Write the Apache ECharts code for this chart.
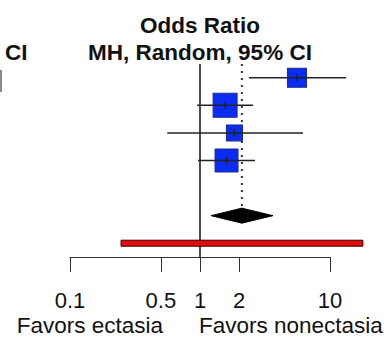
<!DOCTYPE html>
<html><head><meta charset="utf-8">
<script src="https://cdn.jsdelivr.net/npm/echarts@6/dist/echarts.min.js"></script>
<style>html,body{margin:0;padding:0;background:#fff}#c{width:391px;height:338px}</style>
</head><body><div id="c"></div>
<script>
// ---- data ----
var studyOR     = [5.57, 1.56, 1.84, 1.60];
var studyLower  = [2.38, 0.95, 0.56, 0.965];
var studyUpper  = [13.3, 2.56, 6.2, 2.65];
var studyWeight = [21.0, 33.4, 14.9, 30.7];
var pooledOR    = [2.10];
var pooledLower = [1.215];
var pooledUpper = [3.64];
var predLower   = [0.247];
var predUpper   = [17.9];
var tickValues  = [0.1, 0.5, 1, 2, 10];
var titleLines  = ['Odds Ratio', 'MH, Random, 95% CI'];
var favorLabels = ['Favors ectasia', 'Favors nonectasia'];

var FONT = '"Liberation Sans", Arial, sans-serif';
var L = Math.log10;
var studyRows = studyOR.map(function(_, i){ return i; });
var pooledRow = 5, predRow = 6;

var chart = echarts.init(document.getElementById('c'), null, {renderer: 'svg'});
chart.setOption({
  animation: false,
  grid: {left: 70, right: 61, top: 64, bottom: 81},
  xAxis: {
    type: 'value', min: L(0.1), max: L(10), position: 'bottom',
    axisLine: {show: true, onZero: false, lineStyle: {color: '#333', width: 1}},
    axisTick: {show: true, length: 15, customValues: tickValues.map(L), lineStyle: {color: '#333', width: 1}},
    axisLabel: {show: true, customValues: tickValues.map(L), margin: 32, fontSize: 22, fontFamily: FONT, color: '#111',
      formatter: function(v){ return String(+Math.pow(10, v).toPrecision(6)); }},
    splitLine: {show: false}
  },
  yAxis: {type: 'value', inverse: true, min: -0.5, max: 6.5, show: false},
  graphic: [
    {type: 'text', x: 200, y: 25, style: {text: titleLines[0], font: 'bold 22.5px ' + FONT, fill: '#111', align: 'center', verticalAlign: 'middle'}},
    {type: 'text', x: 200, y: 52, style: {text: titleLines[1], font: 'bold 22.5px ' + FONT, fill: '#111', align: 'center', verticalAlign: 'middle'}},
    {type: 'text', x: 5, y: 52, style: {text: 'CI', font: 'bold 22.5px ' + FONT, fill: '#111', align: 'left', verticalAlign: 'middle'}},
    {type: 'rect', shape: {x: 0, y: 70, width: 2, height: 22}, style: {fill: '#888'}},
    {type: 'text', x: 163, y: 325.5, style: {text: favorLabels[0], font: '22.5px ' + FONT, fill: '#111', align: 'right', verticalAlign: 'middle'}},
    {type: 'text', x: 199, y: 325.5, style: {text: favorLabels[1], font: '22.5px ' + FONT, fill: '#111', align: 'left', verticalAlign: 'middle'}}
  ],
  series: [
    { // line of no effect
      type: 'line', symbol: 'none', silent: true, z: 2,
      data: [[L(1), -0.5], [L(1), 6.5]],
      lineStyle: {color: '#111', width: 1.5}
    },
    { // pooled estimate dotted line
      type: 'line', symbol: 'none', silent: true, z: 2,
      data: [[L(pooledOR[0]), -0.5], [L(pooledOR[0]), pooledRow]],
      lineStyle: {color: '#333', width: 2, type: [2, 5]}
    },
    { // study squares
      type: 'scatter', symbol: 'rect', z: 3,
      data: studyOR.map(function(v, i){ return [L(v), studyRows[i], studyWeight[i]]; }),
      symbolSize: function(d){ return Math.sqrt(d[2]) * 4.15; },
      itemStyle: {color: '#0a2cf5', borderColor: '#1b2b90', borderWidth: 1, opacity: 1}
    },
    { // study CIs
      type: 'custom', z: 4,
      data: studyOR.map(function(v, i){ return [L(studyLower[i]), L(studyUpper[i]), L(v), studyRows[i]]; }),
      renderItem: function(params, api){
        var a = api.coord([api.value(0), api.value(3)]);
        var b = api.coord([api.value(1), api.value(3)]);
        var c = api.coord([api.value(2), api.value(3)]);
        return {type: 'group', children: [
          {type: 'line', shape: {x1: a[0], y1: a[1], x2: b[0], y2: b[1]}, style: {stroke: '#222', lineWidth: 1.5}},
          {type: 'line', shape: {x1: c[0], y1: c[1] - 3.5, x2: c[0], y2: c[1] + 3.5}, style: {stroke: '#222', lineWidth: 1.5}}
        ]};
      }
    },
    { // pooled diamond
      type: 'custom', z: 5,
      data: pooledOR.map(function(v, i){ return [L(pooledLower[i]), L(pooledUpper[i]), L(v), pooledRow]; }),
      renderItem: function(params, api){
        var a = api.coord([api.value(0), api.value(3)]);
        var b = api.coord([api.value(1), api.value(3)]);
        var c = api.coord([api.value(2), api.value(3)]);
        return {type: 'polygon', shape: {points: [[a[0], a[1]], [c[0], c[1] - 7.5], [b[0], b[1]], [c[0], c[1] + 7.5]]},
          style: {fill: '#000', stroke: '#000', lineWidth: 1}};
      }
    },
    { // prediction interval bar
      type: 'custom', z: 5,
      data: predLower.map(function(v, i){ return [L(v), L(predUpper[i]), predRow]; }),
      renderItem: function(params, api){
        var a = api.coord([api.value(0), api.value(2)]);
        var b = api.coord([api.value(1), api.value(2)]);
        return {type: 'rect', shape: {x: a[0], y: a[1] - 3, width: b[0] - a[0], height: 6},
          style: {fill: '#e20a0a', stroke: '#3a0000', lineWidth: 1}};
      }
    }
  ]
});
</script></body></html>
